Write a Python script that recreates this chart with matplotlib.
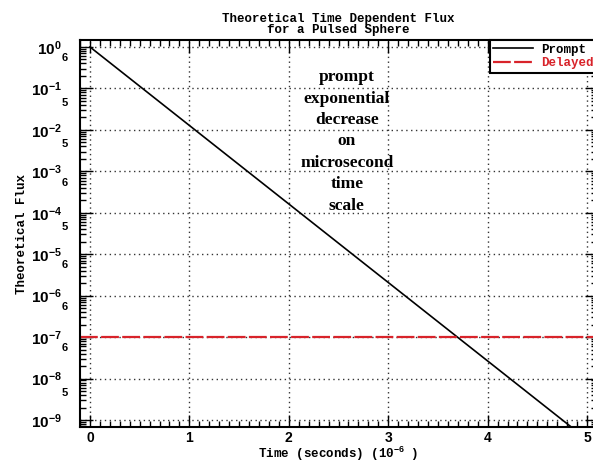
import numpy as np
import matplotlib
matplotlib.use("Agg")
import matplotlib.pyplot as plt
import matplotlib.ticker as ticker

# данные
prompt_t = [0.0, 5.0]            # микросекунды
prompt_flux = [1.0, 3.4e-10]     # прямая на логарифмической шкале = экспонента
delayed_t = [-0.1, 5.1]
delayed_flux = [1.0e-7, 1.0e-7]

x_ticks = [0, 1, 2, 3, 4, 5]
decades = [1e0, 1e-1, 1e-2, 1e-3, 1e-4, 1e-5, 1e-6, 1e-7, 1e-8, 1e-9]
minor_digits = [6, 5, 5, 6, 5, 6, 6, 6, 5]   # подписи под каждой декадой

note = "prompt\nexponential\ndecrease\non\nmicrosecond\ntime\nscale"

plt.rcParams['mathtext.fontset'] = 'custom'
plt.rcParams['mathtext.rm'] = 'Liberation Sans:bold'
plt.rcParams['mathtext.it'] = 'Liberation Sans:bold'
plt.rcParams['mathtext.bf'] = 'Liberation Sans:bold'

mono = dict(family='Liberation Mono', weight='bold', size=9)

fig = plt.figure(figsize=(5.93, 4.63), dpi=100)
ax = fig.add_axes([80 / 593, 36 / 463, 517 / 593, 387 / 463])

ax.plot(prompt_t, prompt_flux, color='black', lw=1.2, label='Prompt')
ax.plot(delayed_t, delayed_flux, color='#d8232a', lw=1.6,
        dashes=(8, 1.5), label='Delayed')

ax.set_yscale('log')
ax.set_xlim(-0.1, 5.1)
ax.set_ylim(6.8e-10, 1.47)

ax.set_xticks(x_ticks)
ax.xaxis.set_minor_locator(ticker.MultipleLocator(0.1))
ax.set_xticklabels([str(v) for v in x_ticks], family='Liberation Sans',
                   weight='bold', size=10)

ax.yaxis.set_major_locator(ticker.FixedLocator(decades))
ax.yaxis.set_major_formatter(ticker.FuncFormatter(
    lambda v, p: r'$10^{%d}$' % int(round(np.log10(v)))))
ax.yaxis.set_minor_locator(ticker.LogLocator(base=10, subs=np.arange(2, 10), numticks=30))

minor_pos = [d * decades[i + 1] for i, d in enumerate(minor_digits)]


def minor_fmt(v, p):
    for m, d in zip(minor_pos, minor_digits):
        if abs(v / m - 1) < 1e-6:
            return r'$%d$' % d
    return ''


ax.yaxis.set_minor_formatter(ticker.FuncFormatter(minor_fmt))
for t in ax.get_yticklabels():
    t.set_fontsize(11)
for t in ax.yaxis.get_minorticklabels():
    t.set_fontsize(8)

ax.tick_params(which='both', direction='in', top=True, right=True, width=1.0)
ax.tick_params(which='major', length=9)
ax.tick_params(which='minor', length=4)
ax.tick_params(axis='y', which='major', pad=13)
ax.tick_params(axis='y', which='minor', pad=8)
ax.tick_params(axis='x', which='major', pad=3)

for s in ax.spines.values():
    s.set_linewidth(1.5)

ax.grid(True, which='major', linestyle=(0, (1, 2.5)), color='#333333', lw=1.0)

ax.set_title('Theoretical Time Dependent Flux\nfor a Pulsed Sphere',
             linespacing=0.95, pad=5, **mono)
ax.set_ylabel('Theoretical Flux', labelpad=2, **mono)
ax.set_xlabel(r'Time (seconds) (10$^{-6}$ )', labelpad=0, **mono)

ax.text(0.516, 0.738, note, transform=ax.transAxes, ha='center', va='center',
        family='Liberation Serif', weight='bold', size=12.5, linespacing=1.45)

leg = ax.legend(loc='upper right', borderaxespad=0, fancybox=False,
                framealpha=1, edgecolor='black', handlelength=3.2,
                handletextpad=0.6, borderpad=0.3, labelspacing=0.1,
                prop=dict(family='Liberation Mono', weight='bold', size=9))
leg.get_frame().set_linewidth(1.5)
leg.get_texts()[1].set_color('#d8232a')

fig.savefig('out.png', dpi=100)
